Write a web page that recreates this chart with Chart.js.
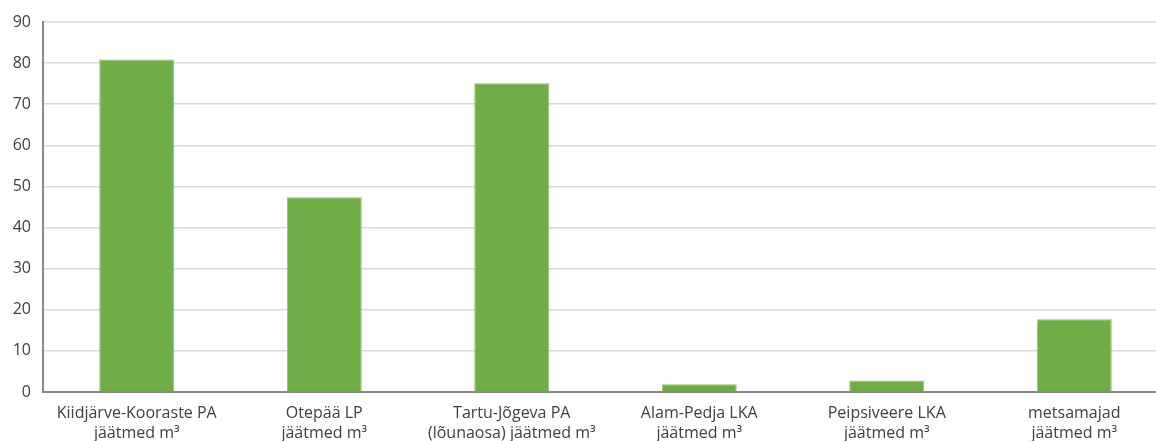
<!DOCTYPE html>
<html>
<head>
<meta charset="utf-8">
<script src="https://cdn.jsdelivr.net/npm/chart.js@4/dist/chart.umd.min.js"></script>
<style>
html,body{margin:0;padding:0;background:#fff;overflow:hidden;}
#wrap{width:1168px;height:441px;position:relative;}
</style>
</head>
<body>
<div id="wrap"><canvas id="c" width="1168" height="441"></canvas></div>
<script>
const categoryLine1 = ['Kiidjärve-Kooraste PA','Otepää LP','Tartu-Jõgeva PA','Alam-Pedja LKA','Peipsiveere LKA','metsamajad'];
const categoryLine2 = ['jäätmed m³','jäätmed m³','(lõunaosa) jäätmed m³','jäätmed m³','jäätmed m³','jäätmed m³'];
const values = [80.9, 47.4, 75.1, 1.9, 2.8, 17.7];
const yTicks = [0,10,20,30,40,50,60,70,80,90];

const labels = categoryLine1.map((l,i)=>[l, categoryLine2[i]]);
const fam = "'Open Sans', 'DejaVu Sans', sans-serif";

new Chart(document.getElementById('c'), {
  type:'bar',
  data:{labels, datasets:[{data:values, backgroundColor:'#70AD47', borderColor:'#8fc06f', borderWidth:{top:1,left:1,right:1,bottom:0}, barPercentage:1, categoryPercentage:0.4}]},
  options:{
    responsive:false, animation:false, devicePixelRatio:1,
    layout:{padding:{top:22,right:0,left:0,bottom:0}},
    plugins:{legend:{display:false}, tooltip:{enabled:false}},
    scales:{
      x:{
        grid:{display:false, drawTicks:false},
        border:{display:true, color:'#898989', width:2},
        ticks:{color:'#404040', font:{family:fam, size:16, lineHeight:1.25}, padding:11, maxRotation:0, autoSkip:false},
        afterFit:(s)=>{s.height=49;}
      },
      y:{
        min:0, max:90,
        afterBuildTicks:(s)=>{s.ticks = yTicks.map(v=>({value:v}));},
        grid:{color:'#d9d9d9', lineWidth:1.5, drawTicks:false},
        border:{display:true, color:'#898989', width:2},
        ticks:{color:'#404040', font:{family:fam, size:16}, padding:12},
        afterFit:(s)=>{s.width=43;}
      }
    }
  }
});
</script>
</body>
</html>
